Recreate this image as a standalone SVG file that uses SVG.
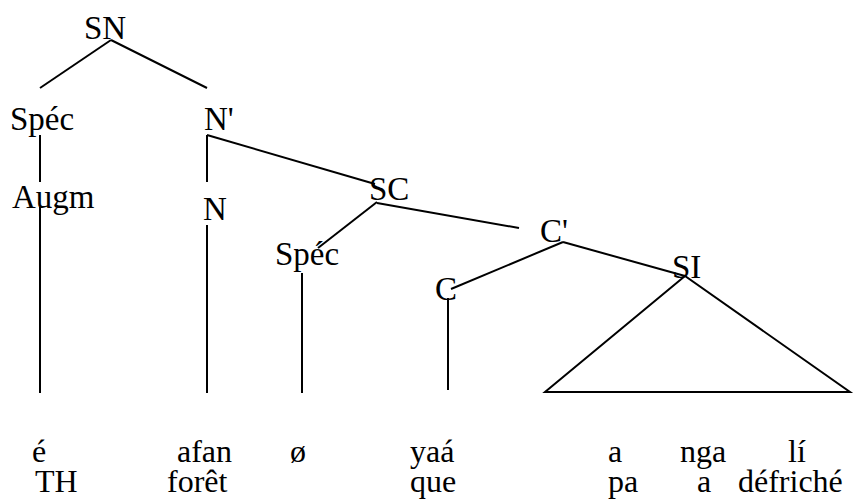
<svg xmlns="http://www.w3.org/2000/svg" width="855" height="500" viewBox="0 0 855 500">
<style>
text{font-family:"Liberation Serif","Times New Roman",serif;font-size:33px;fill:#000}
.w{font-size:32px}
line,polygon{stroke:#000;stroke-width:2;fill:none}
</style>
<rect width="855" height="500" fill="#fff"/>
<g id="connectors">
<line x1="111" y1="40" x2="40" y2="88"/>
<line x1="111" y1="40" x2="207" y2="88"/>
<line x1="40" y1="135" x2="40" y2="182"/>
<line x1="40" y1="207" x2="40" y2="393"/>
<line x1="207" y1="135" x2="207" y2="182"/>
<line x1="207" y1="135" x2="375" y2="184"/>
<line x1="207" y1="225" x2="207" y2="393"/>
<line x1="377" y1="202" x2="318" y2="248"/>
<line x1="377" y1="203" x2="519" y2="228"/>
<line x1="302" y1="273" x2="302" y2="393"/>
<line x1="563" y1="242" x2="451" y2="289"/>
<line x1="563" y1="242" x2="685" y2="276"/>
<line x1="448" y1="298" x2="448" y2="390"/>
<polygon points="685,276 545,392 850,392"/>
</g>
<g id="SN"><text x="84" y="39">SN</text></g>
<g id="Spec1"><text x="10" y="130">Spéc</text></g>
<g id="Nbar"><text x="204" y="130">N'</text></g>
<g id="Augm"><text x="12" y="208">Augm</text></g>
<g id="N"><text x="203" y="220">N</text></g>
<g id="SC"><text x="369" y="200">SC</text></g>
<g id="Spec2"><text x="275" y="265">Spéc</text></g>
<g id="Cbar"><text x="540" y="242">C'</text></g>
<g id="C"><text x="435" y="300">C</text></g>
<g id="SI"><text x="672" y="278">SI</text></g>
<g id="words" class="w">
<text class="w" x="32" y="462">é</text>
<text class="w" x="177" y="462">afan</text>
<text class="w" x="290" y="462">ø</text>
<text class="w" x="410" y="462">yaá</text>
<text class="w" x="608" y="462">a</text>
<text class="w" x="680" y="462">nga</text>
<text class="w" x="788" y="462">lí</text>
<text class="w" x="35" y="492">TH</text>
<text class="w" x="167" y="492">forêt</text>
<text class="w" x="410" y="492">que</text>
<text class="w" x="608" y="492">pa</text>
<text class="w" x="697" y="492">a</text>
<text class="w" x="738" y="492">défriché</text>
</g>
</svg>
